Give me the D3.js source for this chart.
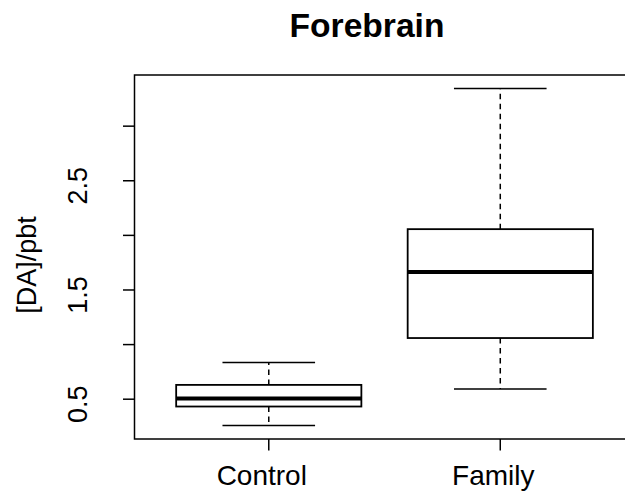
<!DOCTYPE html>
<html>
<head>
<meta charset="utf-8">
<script src="https://cdn.jsdelivr.net/npm/d3@7"></script>
<style>
  body { margin: 0; background: #fff; }
  text { font-family: "Liberation Sans", Arial, Helvetica, sans-serif; fill: #000; }
</style>
</head>
<body>
<div id="chart"></div>
<script>
var width = 625,
  height = 493;

// box stats
var groups = ["Control", "Family"];
var whiskerLow = [0.259, 0.594];
var q1 = [0.433, 1.060];
var medians = [0.506, 1.664];
var q3 = [0.631, 2.057];
var whiskerHigh = [0.837, 3.345];

var yTicks = [0.5, 1.0, 1.5, 2.0, 2.5, 3.0];
var yTickLabels = ["0.5", "", "1.5", "", "2.5", ""];

var margin = { left: 134.5, top: 75, bottom: 439 };

var svg = d3.select("#chart").append("svg")
  .attr("width", width)
  .attr("height", height);

// R style: extend range by 4% each side
var lo = d3.min(whiskerLow), hi = d3.max(whiskerHigh), pad = (hi - lo) * 0.04;
var y = d3.scaleLinear()
  .domain([lo - pad, hi + pad])
  .range([margin.bottom, margin.top]);

var x = d3.scaleLinear()
  .domain([0.42, 2.58])
  .range([margin.left, margin.left + 2.16 * 231.5]);

var plotRight = x(2.58);

// frame
svg.append("rect")
  .attr("x", margin.left)
  .attr("y", margin.top)
  .attr("width", plotRight - margin.left)
  .attr("height", margin.bottom - margin.top)
  .attr("fill", "none")
  .attr("stroke", "#000")
  .attr("stroke-width", 1.5);

var boxes = svg.selectAll(".box")
  .data(groups)
  .enter().append("g")
  .attr("class", "box");

var bw = 0.4, sw = 0.2;

// whiskers
boxes.append("line")
  .attr("x1", function (d, i) { return x(i + 1); })
  .attr("x2", function (d, i) { return x(i + 1); })
  .attr("y1", function (d, i) { return y(q3[i]); })
  .attr("y2", function (d, i) { return y(whiskerHigh[i]); })
  .attr("stroke", "#000").attr("stroke-width", 1.5)
  .attr("stroke-dasharray", "5.5,4.5");

boxes.append("line")
  .attr("x1", function (d, i) { return x(i + 1); })
  .attr("x2", function (d, i) { return x(i + 1); })
  .attr("y1", function (d, i) { return y(q1[i]); })
  .attr("y2", function (d, i) { return y(whiskerLow[i]); })
  .attr("stroke", "#000").attr("stroke-width", 1.5)
  .attr("stroke-dasharray", "5.5,4.5");

// staples
[whiskerLow, whiskerHigh].forEach(function (arr) {
  boxes.append("line")
    .attr("x1", function (d, i) { return x(i + 1 - sw); })
    .attr("x2", function (d, i) { return x(i + 1 + sw); })
    .attr("y1", function (d, i) { return y(arr[i]); })
    .attr("y2", function (d, i) { return y(arr[i]); })
    .attr("stroke", "#000").attr("stroke-width", 1.5);
});

// box
boxes.append("rect")
  .attr("x", function (d, i) { return x(i + 1 - bw); })
  .attr("width", x(1 + bw) - x(1 - bw))
  .attr("y", function (d, i) { return y(q3[i]); })
  .attr("height", function (d, i) { return y(q1[i]) - y(q3[i]); })
  .attr("fill", "#fff")
  .attr("stroke", "#000").attr("stroke-width", 1.8);

// median
boxes.append("line")
  .attr("x1", function (d, i) { return x(i + 1 - bw); })
  .attr("x2", function (d, i) { return x(i + 1 + bw); })
  .attr("y1", function (d, i) { return y(medians[i]); })
  .attr("y2", function (d, i) { return y(medians[i]); })
  .attr("stroke", "#000").attr("stroke-width", 4);

// y axis
var yAxis = svg.append("g");
yAxis.selectAll("line")
  .data(yTicks)
  .enter().append("line")
  .attr("x1", margin.left - 11.5)
  .attr("x2", margin.left)
  .attr("y1", function (d) { return y(d); })
  .attr("y2", function (d) { return y(d); })
  .attr("stroke", "#000").attr("stroke-width", 1.5);

yAxis.selectAll("text")
  .data(yTicks)
  .enter().append("text")
  .attr("transform", function (d) { return "translate(87," + (y(d) + 5) + ")rotate(-90)"; })
  .attr("text-anchor", "middle")
  .style("font-size", "27px")
  .text(function (d, i) { return yTickLabels[i]; });

// x axis
var xAxis = svg.append("g");
xAxis.selectAll("line")
  .data(groups)
  .enter().append("line")
  .attr("x1", function (d, i) { return x(i + 1); })
  .attr("x2", function (d, i) { return x(i + 1); })
  .attr("y1", margin.bottom)
  .attr("y2", margin.bottom + 11.5)
  .attr("stroke", "#000").attr("stroke-width", 1.5);

xAxis.selectAll("text")
  .data(groups)
  .enter().append("text")
  .attr("x", function (d, i) { return x(i + 1) - 7; })
  .attr("y", 485)
  .attr("text-anchor", "middle")
  .style("font-size", "28px")
  .text(function (d) { return d; });

// labels
svg.append("text")
  .attr("transform", "translate(36," + ((margin.top + margin.bottom) / 2 + 8) + ")rotate(-90)")
  .attr("text-anchor", "middle")
  .style("font-size", "27px")
  .text("[DA]/pbt");

svg.append("text")
  .attr("x", 367)
  .attr("y", 37)
  .attr("text-anchor", "middle")
  .style("font-size", "33.6px")
  .style("font-weight", "bold")
  .text("Forebrain");
</script>
</body>
</html>
